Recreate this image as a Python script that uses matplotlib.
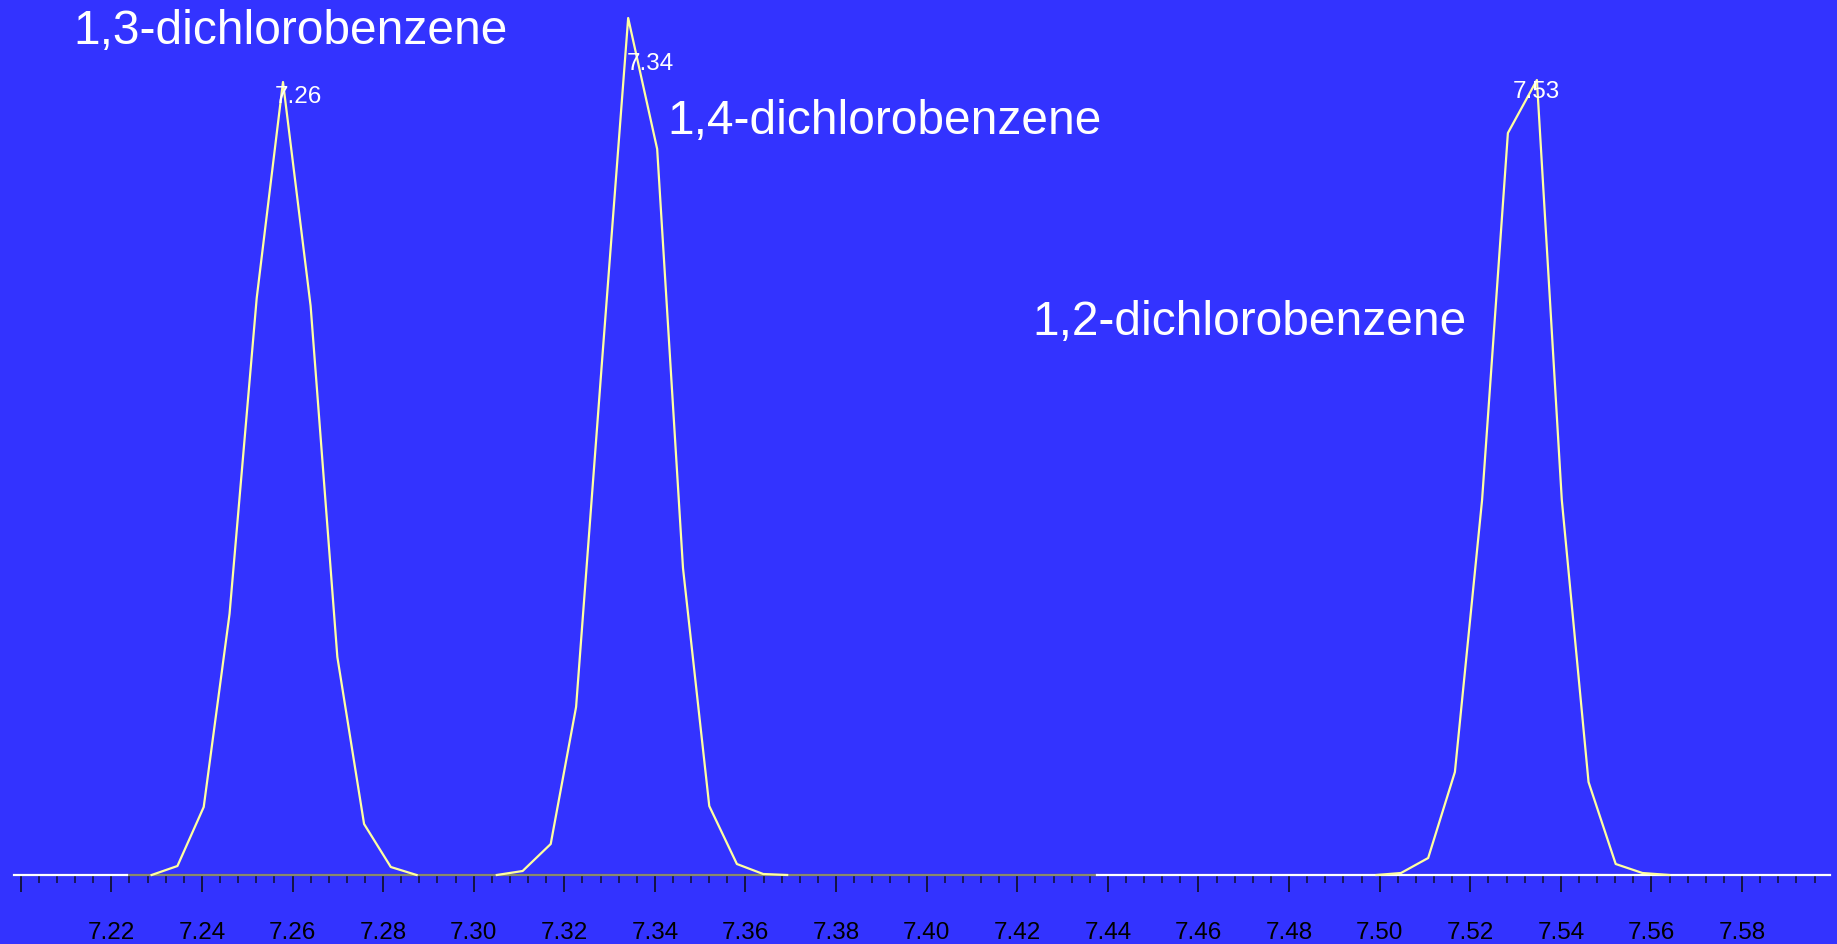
import matplotlib
matplotlib.use('Agg')
import matplotlib.pyplot as plt
from matplotlib import font_manager
import numpy as np

# retention time (min) / abundance
PEAK1_T = [7.2289, 7.2346, 7.2404, 7.2461, 7.2521, 7.2579, 7.2640, 7.2699, 7.2758, 7.2817, 7.2874]
PEAK1_Y = [0, 9, 68, 261, 577, 793, 569, 218, 51, 8, 0]
PEAK2_T = [7.3051, 7.3108, 7.3170, 7.3226, 7.3283, 7.3341, 7.3405, 7.3462, 7.3520, 7.3581, 7.3639, 7.3692]
PEAK2_Y = [0, 4, 31, 168, 512, 857, 726, 307, 69, 11, 1, 0]
PEAK3_T = [7.4993, 7.5047, 7.5107, 7.5166, 7.5226, 7.5283, 7.5347, 7.5402, 7.5461, 7.5521, 7.5580, 7.5639]
PEAK3_Y = [0, 2, 17, 103, 375, 742, 795, 375, 93, 11, 2, 0]

APEX_T = [7.2579, 7.3341, 7.5347]
APEX_Y = [793, 857, 795]
APEX_LABELS = ['7.26', '7.34', '7.53']

COMPOUNDS = ['1,3-dichlorobenzene', '1,4-dichlorobenzene', '1,2-dichlorobenzene']

AXIS_START = 7.1985
AXIS_END = 7.5994
GREY_SPAN = [7.2234, 7.4375]
MAJOR_TICKS = [7.20, 7.22, 7.24, 7.26, 7.28, 7.30, 7.32, 7.34, 7.36, 7.38,
               7.40, 7.42, 7.44, 7.46, 7.48, 7.50, 7.52, 7.54, 7.56, 7.58]
MAJOR_LABELS = ['', '7.22', '7.24', '7.26', '7.28', '7.30', '7.32', '7.34', '7.36', '7.38',
                '7.40', '7.42', '7.44', '7.46', '7.48', '7.50', '7.52', '7.54', '7.56', '7.58']
MINOR_STEP = 0.004

BG = '#3333ff'
TRACE = '#ffffa0'

names = {f.name for f in font_manager.fontManager.ttflist}
if 'Liberation Sans Narrow' in names:
    small_font, small_size = 'Liberation Sans Narrow', 19
else:
    small_font, small_size = 'Liberation Sans', 17.5

W, H = 1837, 945
fig = plt.figure(figsize=(W / 100, H / 100), dpi=100, facecolor=BG)
ax = fig.add_axes([0, 0, 1, 1])
ax.set_facecolor(BG)
ax.set_xlim(7.19543, 7.60095)
ax.set_ylim(-69, 876)

for s in ['top', 'left', 'right']:
    ax.spines[s].set_visible(False)
ax.spines['bottom'].set_position(('data', 0))
ax.spines['bottom'].set_bounds(AXIS_START, AXIS_END)
ax.spines['bottom'].set_color('#111133')
ax.spines['bottom'].set_linewidth(1.5)
ax.spines['bottom'].set_zorder(1)
ax.yaxis.set_visible(False)

ax.set_xticks(MAJOR_TICKS)
ax.set_xticklabels(MAJOR_LABELS)
minor = np.arange(7.20, 7.597, MINOR_STEP)
ax.set_xticks(minor, minor=True)
ax.tick_params(axis='x', which='major', direction='out', length=12, width=1.3,
               color='#111133', pad=21, labelsize=small_size, labelcolor='black')
ax.tick_params(axis='x', which='minor', direction='out', length=6, width=1.1,
               color='#111133')
for lab in ax.get_xticklabels():
    lab.set_fontfamily(small_font)

# baseline segments
ax.plot([AXIS_START, GREY_SPAN[0]], [0, 0], color='white', lw=1.6, zorder=3)
ax.plot([GREY_SPAN[1], AXIS_END], [0, 0], color='white', lw=1.6, zorder=3)
ax.plot(GREY_SPAN, [0, 0], color='#8a8a6c', lw=1.6, zorder=2)

for t, y in [(PEAK1_T, PEAK1_Y), (PEAK2_T, PEAK2_Y), (PEAK3_T, PEAK3_Y)]:
    ax.plot(t, y, color=TRACE, lw=1.6, zorder=4)

# apex labels
offsets = [(-8, -14), (-1, -45), (-24, -11)]
for t, y, lab, off in zip(APEX_T, APEX_Y, APEX_LABELS, offsets):
    ax.annotate(lab, (t, y), xytext=off, textcoords='offset pixels',
                ha='left', va='center', color='white',
                fontsize=small_size, fontfamily=small_font, zorder=5)

# compound names
name_pos = [(73, 44), (667, 134), (1032, 335)]
for name, (px, py) in zip(COMPOUNDS, name_pos):
    fig.text(px / W, 1 - py / H, name, ha='left', va='baseline', color='white',
             fontsize=34.5, fontfamily='Liberation Sans')

fig.savefig('out.png', dpi=100, facecolor=BG)
